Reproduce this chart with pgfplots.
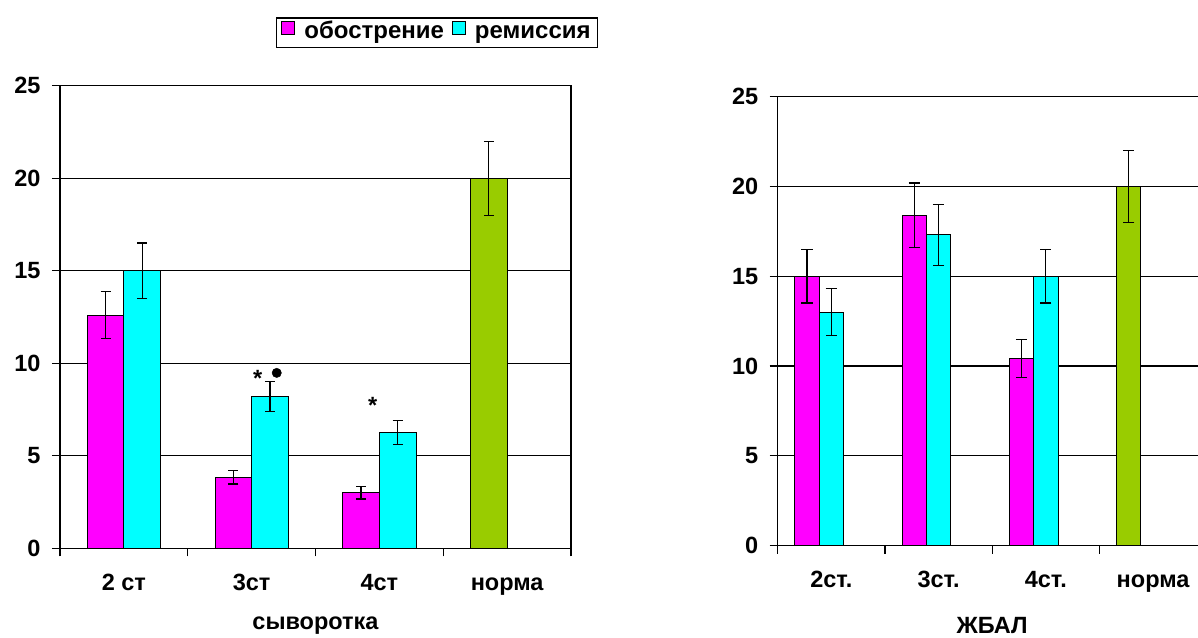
\documentclass[border=0pt]{standalone}
\usepackage{fontspec}
\setmainfont{Liberation Sans}
\usepackage{pgfplots}
\pgfplotsset{compat=1.18}

\definecolor{obmag}{RGB}{255,0,255}
\definecolor{remcyan}{RGB}{0,255,255}
\definecolor{normgreen}{RGB}{153,204,0}

\newcommand{\bigbf}{\fontsize{23.5}{27}\selectfont\bfseries}

\pgfplotsset{
  panel/.style={
    scale only axis,
    ymin=0, ymax=25,
    ytick={0,5,10,15,20,25},
    xmin=-0.5, xmax=3.5,
    xtick={0,1,2,3},
    minor xtick={-0.5,0.5,1.5,2.5,3.5},
    major x tick style={draw=none},
    major tick length=8pt,
    minor tick length=8pt,
    tick align=outside,
    xtick pos=bottom, ytick pos=left,
    tick style={black, line width=1.2pt},
    ymajorgrids,
    grid style={black, line width=1.1pt},
    axis line style={black, line width=1.4pt},
    /pgf/number format/assume math mode=true,
    tick label style={font=\bigbf},
    yticklabel style={xshift=-8pt},
    xticklabel style={anchor=north, text height=16.8pt, text depth=0pt, yshift=-14pt},
    label style={font=\bigbf},
    error bars/error bar style={black, line width=1.3pt},
    error bars/error mark options={rotate=90, black, line width=1.3pt, mark size=5pt},
  },
  barstyle/.style={ybar, bar shift=0pt, draw=black, line width=0.9pt},
}

\begin{document}
\begin{tikzpicture}[x=1pt,y=1pt]

% serum panel: bars sit at category -/+ 0.1433 (half a bar width)
\begin{axis}[panel,
  at={(60pt,88.7pt)}, anchor=south west,
  width=511pt, height=462.6pt,
  xticklabels={2 ст,3ст,4ст,норма},
  xlabel={сыворотка},
  xlabel style={at={(axis description cs:0.5,-0.1766)}, anchor=base},
  legend style={
    at={(0.7378,1.1146)}, anchor=center,
    legend columns=2,
    draw=black, line width=1.3pt, fill=white,
    font=\fontsize{24}{28}\selectfont\bfseries,
    inner xsep=5pt, inner ysep=3pt,
    nodes={text height=13pt, text depth=4pt},
    /tikz/every even column/.append style={column sep=6pt},
  },
  legend cell align=left,
  legend image code/.code={%
    \draw[#1, draw=black, line width=1pt] (0pt,-0.5pt) rectangle (13pt,12.5pt);},
]
\addplot[barstyle, fill=obmag, bar width=36.6pt,
  error bars/.cd, y dir=both, y explicit]
  coordinates {(-0.1433,12.6) +- (0,1.27) (0.8567,3.84) +- (0,0.36) (1.8567,3.0) +- (0,0.34)};
\addlegendentry{\kern7pt обострение}
\addplot[barstyle, fill=remcyan, bar width=36.6pt,
  error bars/.cd, y dir=both, y explicit]
  coordinates {(0.1433,15.0) +- (0,1.5) (1.1433,8.2) +- (0,0.8) (2.1433,6.25) +- (0,0.65)};
\addlegendentry{\kern7pt ремиссия}
\addplot[barstyle, fill=normgreen, bar width=36.6pt, forget plot,
  error bars/.cd, y dir=both, y explicit]
  coordinates {(2.8567,20.0) +- (0,2.0)};
% significance marks
\addplot[only marks, mark=*, mark size=4.7pt, black, forget plot]
  coordinates {(1.1965,9.48)};
\node[anchor=north, inner sep=0pt, font=\bigbf] at (axis cs:1.048,9.64) {*};
\node[anchor=north, inner sep=0pt, font=\bigbf] at (axis cs:1.948,8.18) {*};
\end{axis}

% BAL fluid panel: first series one bar width left of the category centre
\begin{axis}[panel,
  at={(777.7pt,91.5pt)}, anchor=south west,
  width=429pt, height=448.8pt,
  xticklabels={2ст.,3ст.,4ст.,норма},
  xlabel={ЖБАЛ},
  xlabel style={at={(axis description cs:0.5,-0.1950)}, anchor=base},
  error bars/error mark options={rotate=90, black, line width=1.3pt, mark size=5.6pt},
]
\addplot[barstyle, fill=obmag, bar width=24.3pt,
  error bars/.cd, y dir=both, y explicit]
  coordinates {(-0.2266,15.0) +- (0,1.5) (0.7734,18.4) +- (0,1.8) (1.7734,10.4) +- (0,1.06)};
\addplot[barstyle, fill=remcyan, bar width=24.3pt,
  error bars/.cd, y dir=both, y explicit]
  coordinates {(0,13.0) +- (0,1.3) (1,17.3) +- (0,1.7) (2,15.0) +- (0,1.5)};
\addplot[barstyle, fill=normgreen, bar width=24.3pt,
  error bars/.cd, y dir=both, y explicit]
  coordinates {(2.7734,20.0) +- (0,2.0)};
\end{axis}

\pgfresetboundingbox
\path[use as bounding box] (0pt,0pt) rectangle (1198pt,637pt);
\end{tikzpicture}
\end{document}
